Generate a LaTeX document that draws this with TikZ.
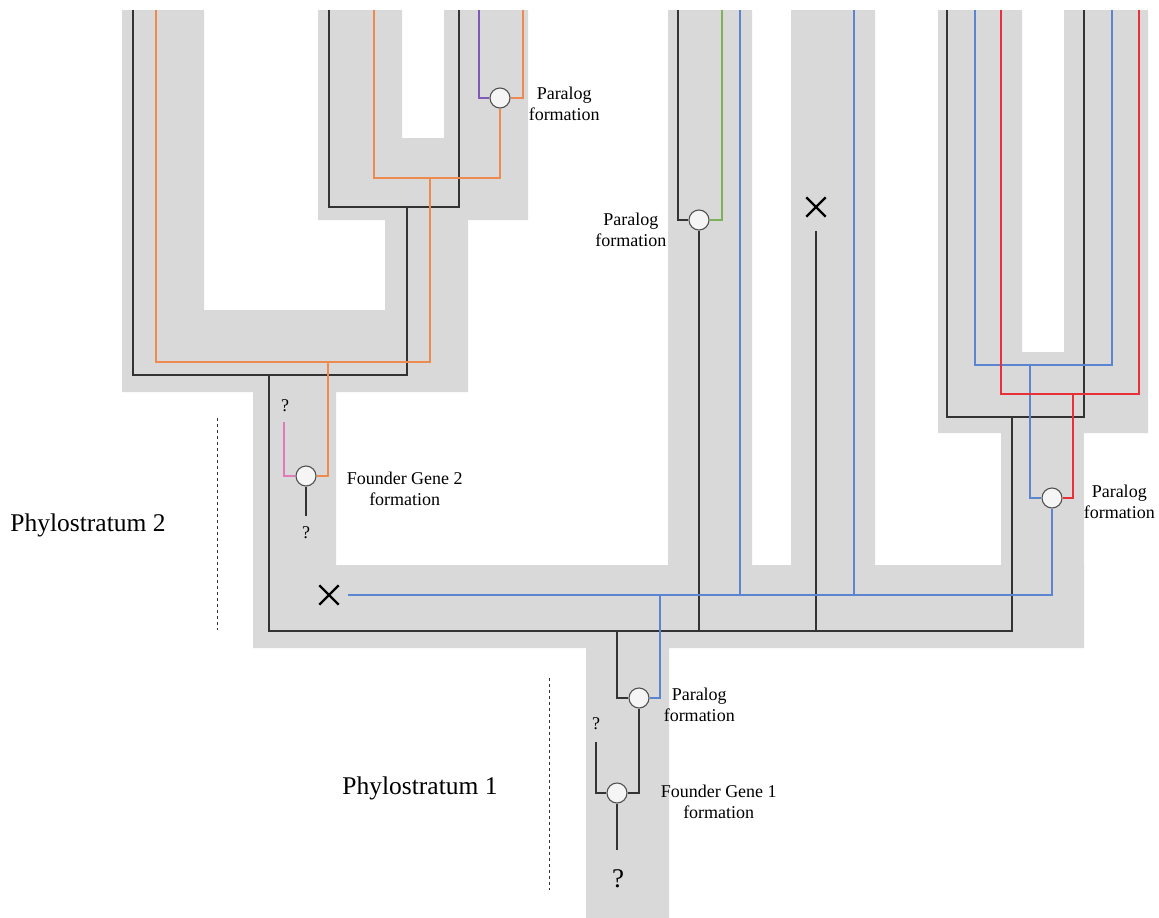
\documentclass[tikz,border=0pt]{standalone}
\usepackage{fontspec}
\setmainfont{Liberation Serif}
\usetikzlibrary{positioning,shapes.misc}
\definecolor{tube}{HTML}{D9D9D9}
\definecolor{gblk}{HTML}{333333}
\definecolor{gorg}{HTML}{ED8B4E}
\definecolor{gblu}{HTML}{5B85D0}
\definecolor{gred}{HTML}{E8303A}
\definecolor{ggrn}{HTML}{7FB05A}
\definecolor{gpur}{HTML}{8058B8}
\definecolor{gpnk}{HTML}{E07AB8}

\begin{document}
\begin{tikzpicture}[x=1pt, y=-1pt,
  ln/.style={line width=1.4pt},
  blk/.style={ln, gblk}, org/.style={ln, gorg}, blu/.style={ln, gblu}, rd/.style={ln, gred},
  grn/.style={ln, ggrn}, pur/.style={ln, gpur}, pnk/.style={ln, gpnk},
  dup/.style={circle, draw=gblk!85, fill=gray!8, line width=1.1pt, minimum size=20pt, inner sep=0pt},
  lbl/.style={font=\fontsize{18}{21.5}\selectfont, align=center, inner sep=0pt},
  loss/.style={cross out, draw=black, line width=2.4pt, minimum size=17pt, inner sep=0pt},
  qm/.style={font=\fontsize{18}{20}\selectfont, inner sep=0pt},
  strat/.style={font=\fontsize{25.5}{28}\selectfont, inner sep=0pt},
  div/.style={gblk, line width=0.8pt, dash pattern=on 3pt off 3pt}]
  \useasboundingbox (0,0) rectangle (1159,918);
  % species tubes
  \fill[tube] (122,10) rectangle (204,392) (122,310) rectangle (468,392) (385,210) rectangle (468,392);
  \fill[tube] (318,10) rectangle (402,220) (444,10) rectangle (528,220) (402,138) rectangle (444,220);
  \fill[tube] (253,390) rectangle (336,648) (253,565) rectangle (1084,648) (586,646) rectangle (669,918);
  \fill[tube] (668,10) rectangle (752,566) (791,10) rectangle (875,566);
  \fill[tube] (938,10) rectangle (1022,433) (1064,10) rectangle (1148,433) (1022,352) rectangle (1064,433);
  \fill[tube] (1001,430) rectangle (1084,566);
  % duplication / origin events
  \node[dup] (dupT) at (500,98) {};
  \node[dup] (dupM) at (699,220) {};
  \node[dup] (dupR) at (1052,498) {};
  \node[dup] (dupP) at (639,698) {};
  \node[dup] (fnd2) at (306,476) {};
  \node[dup] (fnd1) at (617,793) {};
  \node[loss] (lossA) at (329,595) {};
  \node[loss] (lossB) at (816,207) {};
  % black lineages
  \draw[blk] (133,10) |- (407,375) -- (407,207);
  \draw[blk] (329,10) |- (459,207) -- (459,10);
  \draw[blk] (947,10) |- (1084,417) -- (1084,10);
  \draw[blk] (269,375) |- (1012,631) -- (1012,417);
  \draw[blk] (699,631) -- (dupM.south);
  \draw[blk] (dupM.west) -| (678,10);
  \draw[grn] (dupM.east) -| (722,10);
  \draw[blk] (816,631) -- (816,231);
  \draw[blk] (617,631) |- (dupP.west);
  \draw[blk] (dupP.south) |- (fnd1.east);
  \draw[blk] (fnd1.west) -| (596,742);
  \draw[blk] (fnd1.south) -- (617,850);
  % orange lineages
  \draw[org] (156,10) |- (430,362) -- (430,178);
  \draw[org] (374,10) |- (500,178) -- (dupT.south);
  \draw[pur] (dupT.west) -| (479,10);
  \draw[org] (dupT.east) -| (523,10);
  \draw[org] (328,362) |- (fnd2.east);
  \draw[pnk] (fnd2.west) -| (284,422);
  \draw[blk] (fnd2.south) -- (306,516);
  % blue and red lineages
  \draw[blu] (348,595) -| (dupR.south);
  \draw[blu] (740,10) -- (740,595);
  \draw[blu] (854,10) -- (854,595);
  \draw[blu] (660,595) |- (dupP.east);
  \draw[blu] (dupR.west) -| (1030,365);
  \draw[blu] (975,10) |- (1112,365) -- (1112,10);
  \draw[rd] (1001,10) |- (1139,394) -- (1139,10);
  \draw[rd] (1073,394) |- (dupR.east);
  % labels
  \node[lbl, right=18pt of dupT, yshift=-6pt] (lT) {Paralog\\formation};
  \node[lbl, left=22pt of dupM, yshift=-10pt] (lM) {Paralog\\formation};
  \node[lbl, right=21pt of dupR, yshift=-4pt] (lR) {Paralog\\formation};
  \node[lbl, right=14pt of dupP, yshift=-7pt] (lP) {Paralog\\formation};
  \node[lbl, right=30pt of fnd2, yshift=-13pt] (lF2) {Founder Gene 2\\formation};
  \node[lbl, right=33pt of fnd1, yshift=-9pt] (lF1) {Founder Gene 1\\formation};
  \node[qm] (q1) at (285,406) {?};
  \node[qm] (q2) at (306,533) {?};
  \node[qm] (q3) at (596,724) {?};
  \node[qm, font=\fontsize{27}{30}\selectfont] (q4) at (618,879) {?};
  \node[strat] (ps2) at (88,525) {Phylostratum 2};
  \node[strat] (ps1) at (420,788) {Phylostratum 1};
  \draw[div] (217,418) -- (217,630);
  \draw[div] (549,678) -- (549,890);
\end{tikzpicture}
\end{document}
